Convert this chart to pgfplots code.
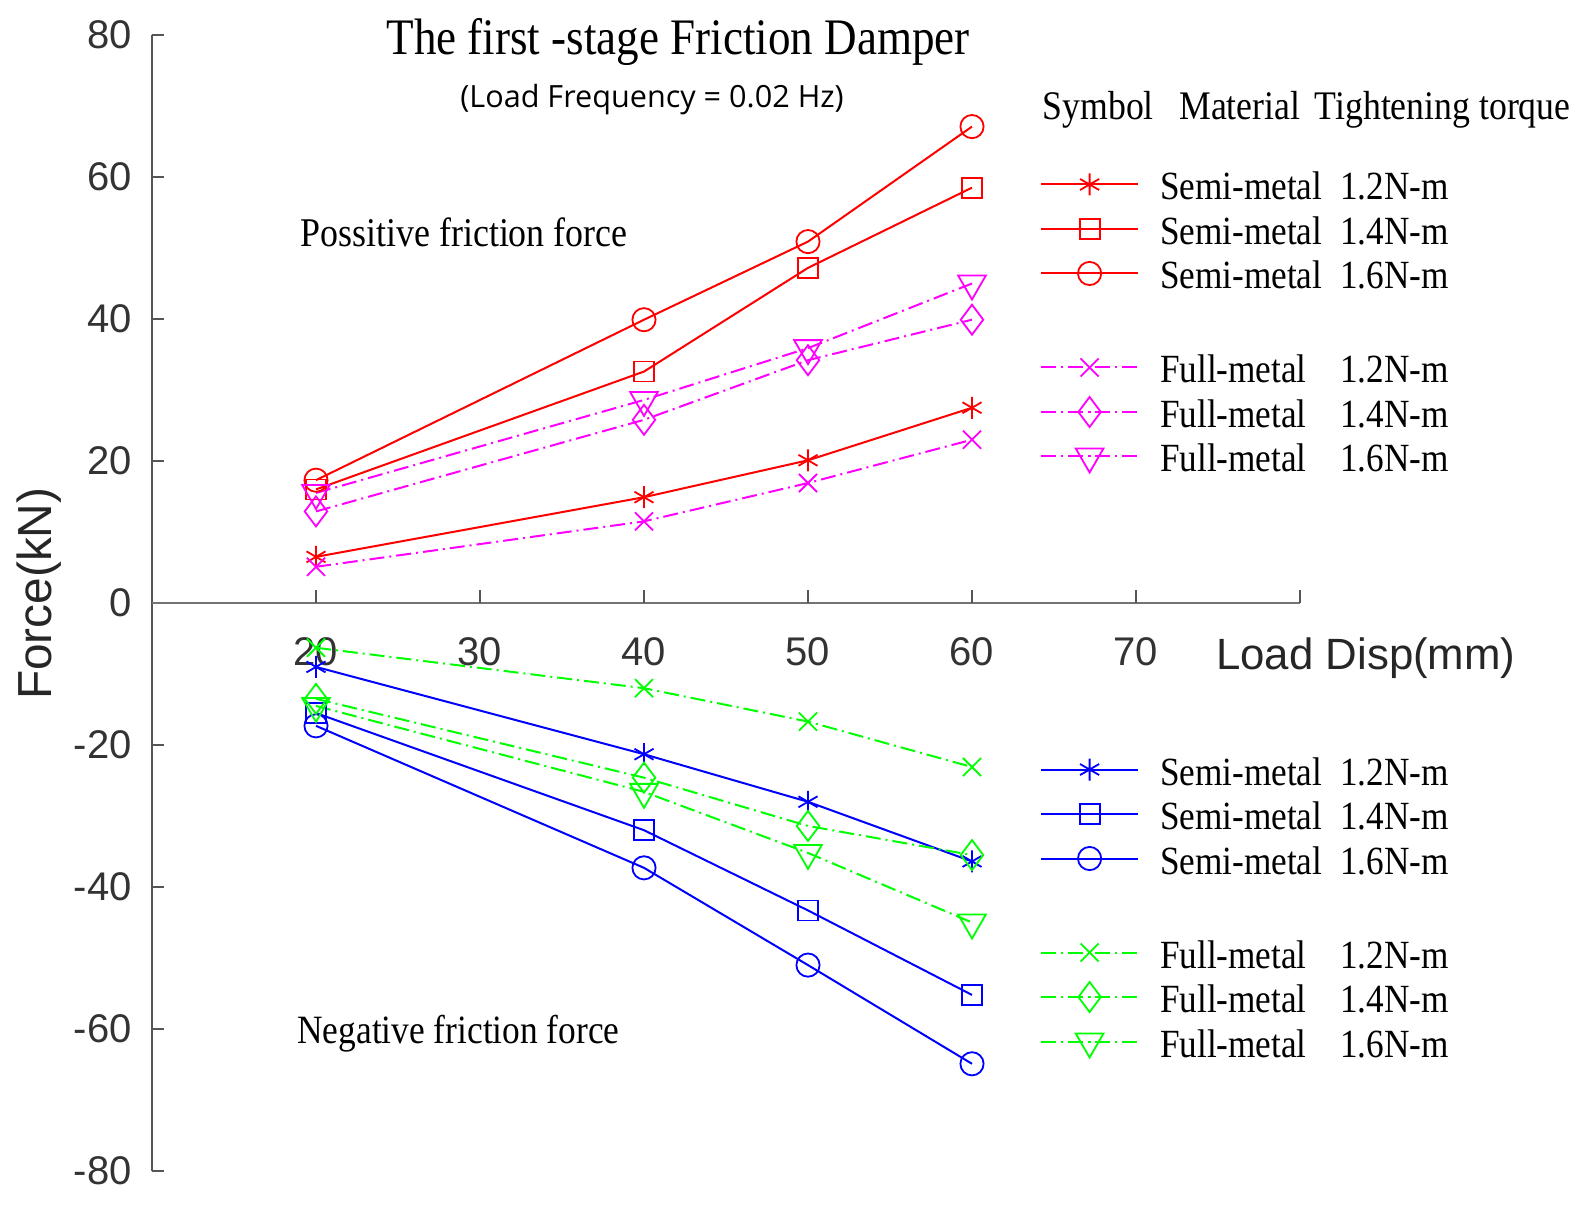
\documentclass[border=0pt]{standalone}
\usepackage{fontspec}
\setmainfont{Liberation Serif}
\newfontfamily\serifc{Liberation Serif}[FakeStretch=0.88]
\newfontfamily\sansf{Liberation Sans}
\newfontfamily\opensans{Open Sans}
\usepackage{pgfplots}
\pgfplotsset{compat=1.18}
\definecolor{axgray}{RGB}{85,85,85}
\definecolor{xgray}{RGB}{115,115,115}
\definecolor{mag}{RGB}{255,0,255}
\definecolor{grn}{RGB}{0,255,0}
\definecolor{blu}{RGB}{0,0,255}
\definecolor{rd}{RGB}{255,0,0}
\newcommand\legtxt[2]{\rule[-5pt]{0pt}{22pt}\makebox[90pt][l]{#1}#2}
\pgfplotsset{
  dashdot style/.style={dash pattern=on 7.5pt off 2.5pt on 1pt off 2.5pt},
  mk/.style={mark options={solid,line width=0.9pt,#1}},
  base/.style={
    width=574pt, height=568pt, scale only axis, at={(0,0)}, anchor=south west,
    xmin=10, xmax=80, ymin=-80, ymax=80, enlargelimits=false, clip=false,
    legend cell align=left,
    legend image code/.code={\draw[mark repeat=2,mark phase=2,##1] plot coordinates {(0pt,0pt) (24.25pt,0pt) (48.5pt,0pt)};},
    legend style={draw=none, fill=none, inner sep=0pt, outer sep=0pt, row sep=3.75pt, column sep=10.5pt,
      nodes={inner sep=0pt, outer sep=0pt},
      font=\serifc\fontsize{20}{22}\selectfont},
    every axis plot/.append style={line width=1pt},
  },
}
\begin{document}
\begin{tikzpicture}
\begin{axis}[base,
  axis x line=none, axis y line*=left, xtick=\empty,
  y axis line style={axgray, line width=1pt},
  ytick={-80,-60,-40,-20,0,20,40,60,80},
  yticklabels={-80,-60,-40,-20,0,20,40,60,80},
  ytick align=inside, major tick length=6pt,
  ytick style={axgray, line width=1pt},
  yticklabel style={font=\sansf\fontsize{20}{24}\selectfont, inner sep=0pt, xshift=-10pt, text=black!80},
  legend style={at={(0.7736,0.8847)}, anchor=north west},
]
% x axis at y = 0
\draw[xgray, line width=1.4pt] (axis cs:10,0) -- (axis cs:80,0);
\pgfplotsinvokeforeach{20,30,40,50,60,70,80}{\draw[axgray, line width=0.8pt] (axis cs:#1,0) -- ++(0pt,6.5pt);}
\pgfplotsinvokeforeach{20,30,40,50,60,70}{\node[font=\sansf\fontsize{20}{24}\selectfont, anchor=center, text=black!80, inner sep=0pt] at (axis cs:#1,-6.9) {#1};}

\addplot[rd, mark=asterisk, mk={mark size=5.5pt}] coordinates {(20,6.5) (40,14.9) (50,20.1) (60,27.5)};
\addlegendentry{\legtxt{Semi-metal}{1.2N-m}}
\addplot[rd, mark=square, mk={mark size=5pt}] coordinates {(20,16) (40,32.6) (50,47.2) (60,58.5)};
\addlegendentry{\legtxt{Semi-metal}{1.4N-m}}
\addplot[rd, mark=o, mk={mark size=5.8pt}] coordinates {(20,17.3) (40,39.9) (50,50.9) (60,67.1)};
\addlegendentry{\legtxt{Semi-metal}{1.6N-m}}
\addlegendimage{empty legend}
\addlegendentry{\rule{0pt}{19.5pt}}
\addplot[mag, dashdot style, mark=x, mk={mark size=6.4pt}] coordinates {(20,5.1) (40,11.5) (50,16.9) (60,23)};
\addlegendentry{\legtxt{Full-metal}{1.2N-m}}
\addplot[mag, dashdot style, mark=diamond, mk={mark size=7.5pt}] coordinates {(20,12.9) (40,25.8) (50,34.2) (60,39.9)};
\addlegendentry{\legtxt{Full-metal}{1.4N-m}}
\addplot[mag, dashdot style, mark=triangle, mk={mark size=8pt, rotate=180}] coordinates {(20,15.5) (40,28.6) (50,35.9) (60,45)};
\addlegendentry{\legtxt{Full-metal}{1.6N-m}}

% texts
\node[font=\serifc\fontsize{25.6}{30}\selectfont, anchor=base] at (axis cs:42.08,77.2) {The first -stage Friction Damper};
\node[font=\opensans\fontsize{15.3}{18}\selectfont, anchor=base] at (axis cs:40.49,69.8) {(Load Frequency = 0.02 Hz)};
\node[font=\serifc\fontsize{20.3}{24}\selectfont, anchor=base] at (axis cs:67.7,68.15) {Symbol};
\node[font=\serifc\fontsize{20.3}{24}\selectfont, anchor=base] at (axis cs:76.33,68.15) {Material};
\node[font=\serifc\fontsize{20.3}{24}\selectfont, anchor=base] at (axis cs:88.7,68.15) {Tightening torque};
\node[font=\serifc\fontsize{20.4}{24}\selectfont, anchor=base] at (axis cs:29.03,50.2) {Possitive friction force};
\node[font=\serifc\fontsize{20.1}{24}\selectfont, anchor=base] at (axis cs:28.69,-62.1) {Negative friction force};
\node[font=\sansf\fontsize{21.9}{26}\selectfont, anchor=base, text=black!85] at (axis cs:84.02,-9.3) {Load Disp(mm)};
\node[font=\sansf\fontsize{23.9}{28}\selectfont, anchor=center, rotate=90, text=black!85] at (axis cs:3.1,1.3) {Force(kN)};
\end{axis}

\begin{axis}[base, hide axis,
  legend style={at={(0.7736,0.3697)}, anchor=north west},
]
\addplot[blu, mark=asterisk, mk={mark size=5.5pt}] coordinates {(20,-9) (40,-21.3) (50,-28) (60,-36.4)};
\addlegendentry{\legtxt{Semi-metal}{1.2N-m}}
\addplot[blu, mark=square, mk={mark size=5pt}] coordinates {(20,-15.5) (40,-32) (50,-43.3) (60,-55.2)};
\addlegendentry{\legtxt{Semi-metal}{1.4N-m}}
\addplot[blu, mark=o, mk={mark size=5.8pt}] coordinates {(20,-17.3) (40,-37.3) (50,-51) (60,-64.9)};
\addlegendentry{\legtxt{Semi-metal}{1.6N-m}}
\addlegendimage{empty legend}
\addlegendentry{\rule{0pt}{19.5pt}}
\addplot[grn, dashdot style, mark=x, mk={mark size=6.4pt}] coordinates {(20,-6.3) (40,-12) (50,-16.7) (60,-23.1)};
\addlegendentry{\legtxt{Full-metal}{1.2N-m}}
\addplot[grn, dashdot style, mark=diamond, mk={mark size=7.5pt}] coordinates {(20,-13.5) (40,-24.6) (50,-31.4) (60,-35.5)};
\addlegendentry{\legtxt{Full-metal}{1.4N-m}}
\addplot[grn, dashdot style, mark=triangle, mk={mark size=8pt, rotate=180}] coordinates {(20,-14.5) (40,-26.6) (50,-35.2) (60,-45)};
\addlegendentry{\legtxt{Full-metal}{1.6N-m}}
\end{axis}
\pgfresetboundingbox
\path[use as bounding box] (-76pt,-20pt) rectangle (715.5pt,585.5pt);
\end{tikzpicture}
\end{document}
